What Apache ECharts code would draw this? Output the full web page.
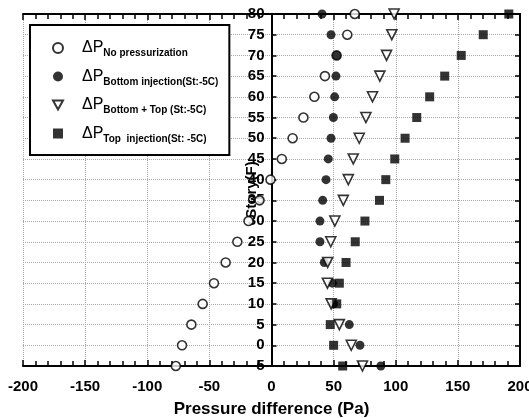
<!DOCTYPE html>
<html>
<head>
<meta charset="utf-8">
<script src="https://cdn.jsdelivr.net/npm/echarts@6/dist/echarts.min.js"></script>
<style>html,body{margin:0;padding:0;background:#fff;}#c{width:529px;height:418px;}</style>
</head>
<body>
<div id="c"></div>
<script>
const stories = [80, 75, 70, 65, 60, 55, 50, 45, 40, 35, 30, 25, 20, 15, 10, 5, 0, -5];
const noPressurization = [67, 61, 52.4, 43, 34.5, 25.7, 17, 8.3, -0.8, -9.6, -18.5, -27.5, -36.9, -46.3, -55.4, -64.5, -72, -77];
const bottomInjection = [40.7, 47.9, 52.4, 51.9, 50.8, 49.8, 47.9, 45.7, 43.9, 41.2, 39, 39, 42.5, 49, 50, 62.6, 71.2, 88];
const bottomPlusTop = [98.7, 96.8, 92.6, 87.2, 81.3, 76, 70.6, 65.8, 61.8, 57.8, 51, 47.7, 45.2, 45, 48, 54.6, 64.2, 73.2];
const topInjection = [191, 170.4, 152.7, 139.4, 127.3, 116.9, 107.5, 99.2, 92, 86.9, 75.2, 67.4, 60, 54.6, 52.5, 47.3, 50, 57.3];
const seriesNames = ['No pressurization', 'Bottom injection(St:-5C)', 'Bottom + Top (St:-5C)', 'Top  injection(St: -5C)'];
const xTitle = 'Pressure difference (Pa)';
const yTitle = 'Story(F)';
const xMin = -200, xMax = 200;

const FONT = 'Arial, "Liberation Sans", sans-serif';
const pairs = (xs) => xs.map((v, i) => [v, stories[i]]);

const W = 529, GL = 23, GR = 9;
// place the story axis at pressure = 0
const zeroOffset = -((0 - xMin) / (xMax - xMin)) * (W - GL - GR);

const chart = echarts.init(document.getElementById('c'), null, {renderer: 'canvas'});
const axisLine = {show: true, onZero: false, lineStyle: {color: '#000', width: 2}};
chart.setOption({
  animation: false,
  backgroundColor: '#fff',
  grid: {left: GL, right: GR, top: 14, bottom: 52, containLabel: false, outerBoundsMode: 'none'},
  legend: {
    orient: 'vertical',
    left: 30, top: 25,
    padding: [15, 11, 11, 22],
    itemGap: 10,
    itemWidth: 10, itemHeight: 10,
    backgroundColor: '#fff',
    borderColor: '#000', borderWidth: 2,
    data: [
      {name: seriesNames[0]},
      {name: seriesNames[1]},
      {name: seriesNames[2], icon: 'path://M0,0 L10,0 L5,9 Z'},
      {name: seriesNames[3]}
    ],
    formatter: (n) => '{g|}{a|ΔP}{b|' + n + '}',
    textStyle: {
      color: '#000',
      rich: {
        g: {width: 14},
        a: {fontSize: 16, fontFamily: FONT, color: '#000'},
        b: {fontSize: 10, fontWeight: 'bold', fontFamily: FONT, color: '#000', padding: [11, 0, 0, 0]}
      }
    }
  },
  xAxis: [{
    type: 'value', min: xMin, max: xMax, interval: 50, position: 'bottom',
    axisLine: axisLine,
    axisTick: {inside: true, length: 6, lineStyle: {color: '#000', width: 1.5}},
    minorTick: {show: true, splitNumber: 5, length: 5, lineStyle: {color: '#000', width: 1.5}},
    axisLabel: {color: '#000', fontSize: 15, fontWeight: 'bold', fontFamily: FONT, margin: 13},
    splitLine: {show: true, lineStyle: {color: '#aaa', type: 'dotted', width: 1}},
    name: xTitle, nameLocation: 'middle', nameGap: 35, nameMoveOverlap: false,
    nameTextStyle: {color: '#000', fontSize: 17, fontWeight: 'bold', fontFamily: FONT}
  }, {
    type: 'value', min: xMin, max: xMax, interval: 50, position: 'top',
    axisLine: axisLine,
    axisTick: {inside: true, length: 6, lineStyle: {color: '#000', width: 1.5}},
    minorTick: {show: true, splitNumber: 5, length: 5, lineStyle: {color: '#000', width: 1.5}},
    axisLabel: {show: false}, splitLine: {show: false}
  }],
  yAxis: [{
    type: 'value', min: -5, max: 80, interval: 5, position: 'left', offset: zeroOffset,
    axisLine: axisLine,
    axisTick: {inside: true, length: 5, lineStyle: {color: '#000', width: 1.5}},
    axisLabel: {color: '#000', fontSize: 15, fontWeight: 'bold', fontFamily: FONT, margin: 7},
    splitLine: {show: true, lineStyle: {color: '#aaa', type: 'dotted', width: 1}},
    name: yTitle, nameLocation: 'middle', nameRotate: 90, nameGap: 12, nameMoveOverlap: false,
    nameTextStyle: {color: '#000', fontSize: 15, fontWeight: 'bold', fontFamily: FONT}
  }, {
    type: 'value', min: -5, max: 80, interval: 5, position: 'right',
    axisLine: axisLine,
    axisTick: {inside: true, length: 5, lineStyle: {color: '#000', width: 1.5}},
    axisLabel: {show: false}, splitLine: {show: false}
  }],
  series: [
    {name: seriesNames[0], type: 'scatter', data: pairs(noPressurization), symbol: 'circle', symbolSize: 9,
     itemStyle: {color: '#fff', borderColor: '#000', borderWidth: 1.6}},
    {name: seriesNames[1], type: 'scatter', data: pairs(bottomInjection), symbol: 'circle', symbolSize: 9,
     itemStyle: {color: '#000'}},
    {name: seriesNames[2], type: 'scatter', data: pairs(bottomPlusTop), symbol: 'triangle', symbolRotate: 180, symbolSize: 10,
     itemStyle: {color: '#fff', borderColor: '#000', borderWidth: 1.6}},
    {name: seriesNames[3], type: 'scatter', data: pairs(topInjection), symbol: 'rect', symbolSize: 9,
     itemStyle: {color: '#000'}}
  ]
});
</script>
</body>
</html>
